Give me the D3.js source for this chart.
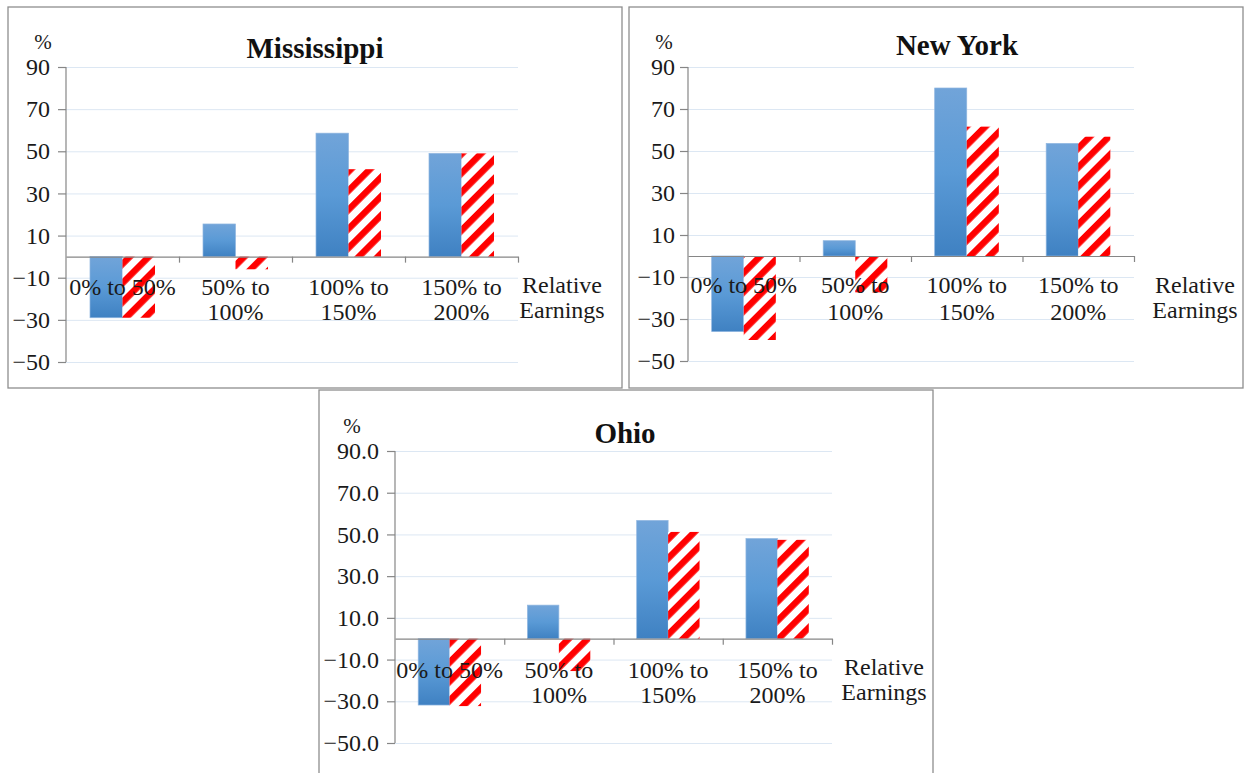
<!DOCTYPE html>
<html>
<head>
<meta charset="utf-8">
<script src="https://cdn.jsdelivr.net/npm/d3@7"></script>
<style>
  html, body { margin: 0; padding: 0; background: #fff; }
  svg { display: block; }
</style>
</head>
<body>
<svg id="chart" width="1245" height="773"></svg>
<script>
// ---------------- DATA ----------------
const categories = ["0% to 50%", "50% to 100%", "100% to 150%", "150% to 200%"];
const categoryLines = [["0% to 50%"], ["50% to", "100%"], ["100% to", "150%"], ["150% to", "200%"]];
const yTicks = [-50, -30, -10, 10, 30, 50, 70, 90];
const states = ["Mississippi", "New York", "Ohio"];
const mississippiBlue = [-29, 15.5, 58.6, 49];
const mississippiRed  = [-29, -6, 41.5, 49];
const newYorkBlue = [-36, 7.3, 80, 53.6];
const newYorkRed  = [-40, -17.3, 61.6, 56.8];
const ohioBlue = [-31.8, 16.1, 56.7, 48];
const ohioRed  = [-32.3, -15.5, 51.2, 47.4];
const unitLabel = "%";
const xAxisLabel = ["Relative", "Earnings"];
const tickFormats = ["d", "d", ".1f"];

// ---------------- LAYOUT ----------------
const panels = [
  { name: states[0], blue: mississippiBlue, red: mississippiRed, fmt: tickFormats[0],
    box: [8, 7, 614, 381], x0: 66, x1: 518, yTop: 67, yBot: 362,
    titleX: 315, titleY: 58, pctX: 43, pctY: 49, relX: 562, tickPad: 8,
    lab1: 38, lab2: 63, rel1: 36, rel2: 61 },
  { name: states[1], blue: newYorkBlue, red: newYorkRed, fmt: tickFormats[1],
    box: [629, 7, 614, 381], x0: 688, x1: 1134, yTop: 67, yBot: 361,
    titleX: 957, titleY: 55, pctX: 664, pctY: 49, relX: 1195, tickPad: 5,
    lab1: 37, lab2: 64, rel1: 37, rel2: 62 },
  { name: states[2], blue: ohioBlue, red: ohioRed, fmt: tickFormats[2],
    box: [319, 390, 614, 400], x0: 395, x1: 832, yTop: 451, yBot: 743,
    titleX: 625, titleY: 443, pctX: 352, pctY: 433, relX: 884, tickPad: 8,
    lab1: 39, lab2: 64, rel1: 36, rel2: 61 }
];

const svg = d3.select("#chart");
const defs = svg.append("defs");

const grad = defs.append("linearGradient").attr("id", "blueGrad")
  .attr("x1", 0).attr("y1", 0).attr("x2", 0).attr("y2", 1);
grad.append("stop").attr("offset", "0%").attr("stop-color", "#71a4d9");
grad.append("stop").attr("offset", "50%").attr("stop-color", "#5a9ad6");
grad.append("stop").attr("offset", "100%").attr("stop-color", "#3f81c2");

const pat = defs.append("pattern").attr("id", "hatch")
  .attr("patternUnits", "userSpaceOnUse")
  .attr("width", 13.5).attr("height", 13.5)
  .attr("patternTransform", "rotate(45)");
pat.append("rect").attr("width", 13.5).attr("height", 13.5).attr("fill", "#fff");
pat.append("rect").attr("width", 6.5).attr("height", 13.5).attr("fill", "#ff0000");

const serif = "'Liberation Serif', 'Times New Roman', serif";

panels.forEach(p => {
  const g = svg.append("g");
  // panel border
  g.append("rect")
    .attr("x", p.box[0]).attr("y", p.box[1])
    .attr("width", p.box[2]).attr("height", p.box[3])
    .attr("fill", "#fff").attr("stroke", "#8e8e8e").attr("stroke-width", 1.3);

  const y = d3.scaleLinear().domain([-50, 90]).range([p.yBot, p.yTop]);
  const pad = 1 - 65 / 113;
  const x = d3.scaleBand().domain(d3.range(categories.length))
    .range([p.x0, p.x1]).paddingInner(pad).paddingOuter(pad / 2);
  const xs = d3.scaleBand().domain(["blue", "red"]).range([0, x.bandwidth()]);

  // gridlines
  g.append("g").attr("transform", `translate(${p.x0},0)`)
    .call(d3.axisLeft(y).tickValues(yTicks).tickSize(-(p.x1 - p.x0)).tickFormat(""))
    .call(s => s.select(".domain").remove())
    .call(s => s.selectAll(".tick line").attr("stroke", "#dce7f3").attr("stroke-width", 1));

  // bars
  const rows = categories.map((c, i) => ({ i, blue: p.blue[i], red: p.red[i] }));
  g.append("g").selectAll("rect.b").data(rows).join("rect")
    .attr("x", d => x(d.i) + xs("blue"))
    .attr("y", d => y(Math.max(0, d.blue)))
    .attr("width", xs.bandwidth())
    .attr("height", d => Math.abs(y(d.blue) - y(0)))
    .attr("fill", "url(#blueGrad)")
    .attr("stroke", "#8fb6e0").attr("stroke-width", 0.7);
  g.append("g").selectAll("rect.r").data(rows).join("rect")
    .attr("x", d => x(d.i) + xs("red"))
    .attr("y", d => y(Math.max(0, d.red)))
    .attr("width", xs.bandwidth())
    .attr("height", d => Math.abs(y(d.red) - y(0)))
    .attr("fill", "url(#hatch)");

  // y axis
  g.append("g").attr("transform", `translate(${p.x0},0)`)
    .call(d3.axisLeft(y).tickValues(yTicks).tickSize(8).tickSizeOuter(0)
      .tickPadding(p.tickPad).tickFormat(d3.format(p.fmt)))
    .call(s => s.select(".domain").attr("stroke", "#868686").attr("stroke-width", 1.2)
      .attr("d", `M0,${p.yTop}V${p.yBot}`))
    .call(s => s.selectAll(".tick line").attr("stroke", "#868686").attr("stroke-width", 1.2))
    .call(s => s.selectAll(".tick text").attr("font-family", serif)
      .attr("font-size", 24).attr("fill", "#1a1a1a"));

  // x axis at zero
  const xb = d3.scaleLinear().domain([0, categories.length]).range([p.x0, p.x1]);
  g.append("g").attr("transform", `translate(0,${y(0)})`)
    .call(d3.axisBottom(xb).tickValues(d3.range(1, categories.length + 1))
      .tickSize(6).tickSizeOuter(0).tickFormat(""))
    .call(s => s.select(".domain").attr("stroke", "#868686").attr("stroke-width", 1.2))
    .call(s => s.selectAll(".tick line").attr("stroke", "#868686").attr("stroke-width", 1.2));

  // category labels
  const lab = g.append("g");
  categoryLines.forEach((lines, i) => {
    const cx = x(i) + x.bandwidth() / 2;
    lines.forEach((t, k) => {
      lab.append("text")
        .attr("x", cx).attr("y", y(0) + (k === 0 ? p.lab1 : p.lab2))
        .attr("text-anchor", "middle")
        .attr("font-family", serif).attr("font-size", 24).attr("fill", "#1a1a1a")
        .text(t);
    });
  });

  // relative earnings
  xAxisLabel.forEach((t, k) => {
    g.append("text")
      .attr("x", p.relX).attr("y", y(0) + (k === 0 ? p.rel1 : p.rel2))
      .attr("text-anchor", "middle")
      .attr("font-family", serif).attr("font-size", 24).attr("fill", "#1a1a1a")
      .text(t);
  });

  // title
  g.append("text").attr("x", p.titleX).attr("y", p.titleY)
    .attr("text-anchor", "middle")
    .attr("font-family", serif).attr("font-weight", "bold").attr("font-size", 29)
    .attr("fill", "#111").text(p.name);

  // % label
  g.append("text").attr("x", p.pctX).attr("y", p.pctY)
    .attr("text-anchor", "middle")
    .attr("font-family", serif).attr("font-size", 21).attr("fill", "#1a1a1a")
    .text(unitLabel);
});
</script>
</body>
</html>
